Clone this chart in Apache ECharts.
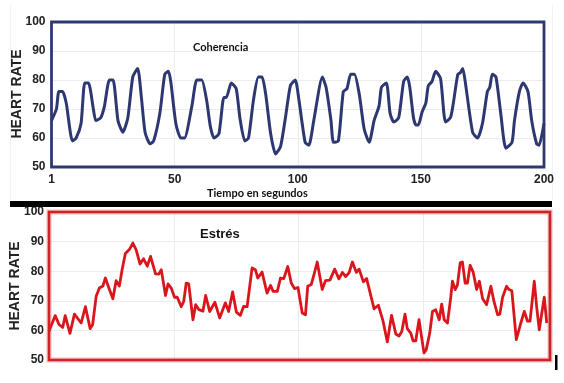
<!DOCTYPE html>
<html>
<head>
<meta charset="utf-8">
<script src="https://cdn.jsdelivr.net/npm/echarts@6/dist/echarts.min.js"></script>
<style>
html,body{margin:0;padding:0;background:#fff;}
#chart{width:564px;height:383px;}
</style>
</head>
<body>
<div id="chart"></div>
<script>
// Coherence (top chart): time (s) and heart rate
var coherenceT = [0,2,3,4.5,6,8.5,10,12,13.5,15,17,18,20,21.5,23.5,25,27,29,31,33,35,36.5,38,40,41.5,44,46,47.5,48.5,50.5,52.5,54,57,59,61,63,64.5,66,68,70,71,73,75,76.5,78.5,80,82,84,85.5,87,89,91,93,95,97,99,100.5,103,104.5,106.5,110,111.5,113.5,114.5,116.5,118.5,120,121.5,123,125,127,129,131,133,134,136,137.5,139,141,143,144.5,145.5,147,148,149,150.5,152,153,154.5,156,158,160,162,163,165,166,167,168,171,173,175,177,178,179,180.5,182.5,184.5,187,188,190,191.5,193.5,195,197,198,200];
var coherenceV = [66,70,76,76,72,59,60,65,79,79,70,66,67,71,80,80,66,62,67,81,84,74,62,58,59,68.5,82,83,79,65,60,60,71,80,80,73,64,60,61.5,74,74,79,77,67,59,60,73,81,81,75,61.5,54.5,57,67,78,80,73,58.5,57.5,66,81,77.5,66,58.5,59,76,77,82,82,75,63,58.5,66,71,77.5,79,68.5,65.5,67,79.5,81,77.5,67,64.5,64.5,69,72,78,79.5,83,80.5,65.5,67,71,82,82.5,84,79.5,62,60,65,76,77.5,82,81,68,56.5,58.5,66,76,79,76,66,58,57.5,65];

// Stress (bottom chart): time (s) and heart rate
var stressT = [0,2.5,4,5.5,6.5,8.4,10.2,11,12.9,14.6,16.5,17.5,18.9,20.2,21.6,22.6,24,25.6,26.9,28.2,29.3,30.6,32.2,33.6,34.9,36.5,37.9,39.4,40.7,42.7,44,45,46.7,47.7,49,50.3,51.4,53,54,55,56,57.7,58.8,60.1,61.7,62.8,64.4,66.5,68.4,70.7,72,73.6,75.1,76.7,78,79.4,81.4,82.7,83.7,85.4,87.4,88.8,89.8,91.5,92.8,94.1,95.7,97.1,98.4,99.8,101.5,102.8,103.7,105.1,106.2,107.5,109.5,110.8,112.6,114.5,116.2,117.6,118.9,120.3,121.6,123.2,124.3,126,127.3,130.3,132,133.9,135.6,137.3,139,140.3,141.4,142.7,143.6,145,145.9,147,148.3,149.4,150.3,151.2,152.6,153.7,155,156.4,157.4,158.4,159.7,161,161.7,162.8,163.7,164.8,165.7,166.8,167.7,168.8,170,171.4,172.5,173.8,175.4,177.1,178.4,179.8,180.7,181.8,183.4,184.4,185.5,187.3,189.1,190.5,191.8,192.8,194.5,195.5,196.5,198.5,199.5];
var stressV = [59.7,65,62,61,65,59,65.5,65.5,62.5,68,60.6,62,71.5,74.3,75,77.7,74.3,70.7,76.8,75,80.5,86,87.3,89.5,87.3,82.4,84.2,81.7,85,79.1,79,80.5,71.8,75.7,74.3,71.2,71.2,68,69.8,76,75.7,63.6,68.7,67,66.5,71.8,66.4,69.5,64.2,69.3,66.4,73,66.2,65.1,68.1,68,81.1,80.5,77.7,79.7,72.6,75.2,73.2,73.2,77.7,77.5,81.6,76,74.1,74.5,65.9,65.3,74.9,75.5,78.8,83.1,73.8,76.8,77,80.7,77.4,79.6,78.2,79.5,83.1,79.6,80.7,76.4,77.5,67.3,68.5,63.1,56.1,65.1,58.8,58.1,59.6,65.5,60.6,59.1,56.5,56.5,63.6,57.4,52.4,53.5,59.1,66.4,67,63.6,68.9,63.6,62.5,71,76.6,73.8,75.3,82.8,83.1,76,76,82,79.7,73.8,76.6,70.7,68.7,74.9,69.6,65.3,65.5,71.2,74.9,73.8,73.4,56.9,62.5,66.4,63.1,63.1,76.6,67.6,60.2,71.2,62.5];

var xTicks = [0, 50, 100, 150, 200];
var xTickLabels = ['1', '50', '100', '150', '200'];
var yTicks = [50, 60, 70, 80, 90, 100];

function pairs(t, v) { return t.map(function (x, i) { return [x, v[i]]; }); }

var chart = echarts.init(document.getElementById('chart'), null, {renderer: 'canvas'});
var labelFont = {fontFamily: 'Liberation Sans, Arial, sans-serif', fontWeight: 'bold', fontSize: 12, color: '#222'};
var splitLine = {show: true, lineStyle: {color: '#ececec', width: 1}};

var G1 = {left: 51.5, top: 22, width: 492.5, height: 145};
var G2 = {left: 49, top: 212, width: 499, height: 148};

chart.setOption({
  animation: false,
  backgroundColor: '#ffffff',
  grid: [
    {left: G1.left, top: G1.top, width: G1.width, height: G1.height, show: false},
    {left: G2.left, top: G2.top, width: G2.width, height: G2.height, show: false}
  ],
  xAxis: [
    {gridIndex: 0, type: 'value', min: 0, max: 200, interval: 50,
     axisLine: {show: false}, axisTick: {show: false}, splitLine: splitLine,
     axisLabel: Object.assign({margin: 7, formatter: function (v) { var i = xTicks.indexOf(v); return i >= 0 ? xTickLabels[i] : ''; }}, labelFont)},
    {gridIndex: 1, type: 'value', min: 0, max: 200, interval: 50,
     axisLine: {show: false}, axisTick: {show: false}, splitLine: splitLine,
     axisLabel: {show: false}}
  ],
  yAxis: [
    {gridIndex: 0, type: 'value', min: yTicks[0], max: yTicks[yTicks.length - 1], interval: 10,
     axisLine: {show: false}, axisTick: {show: false}, splitLine: splitLine,
     axisLabel: Object.assign({margin: 6}, labelFont)},
    {gridIndex: 1, type: 'value', min: yTicks[0], max: yTicks[yTicks.length - 1], interval: 10,
     axisLine: {show: false}, axisTick: {show: false}, splitLine: splitLine,
     axisLabel: Object.assign({margin: 5}, labelFont)}
  ],
  series: [
    {type: 'line', xAxisIndex: 0, yAxisIndex: 0, data: pairs(coherenceT, coherenceV),
     showSymbol: false, smooth: 0.2, lineStyle: {color: '#2d3872', width: 3}},
    {type: 'line', xAxisIndex: 1, yAxisIndex: 1, data: pairs(stressT, stressV),
     showSymbol: false, smooth: false, lineStyle: {color: '#d8161b', width: 2.8, join: 'round'}}
  ],
  graphic: [
    {type: 'rect', z: 50, shape: {x: G1.left, y: G1.top, width: G1.width, height: G1.height},
     style: {fill: 'none', stroke: '#2e3970', lineWidth: 2.8}},
    {type: 'rect', z: 49, shape: {x: G2.left, y: G2.top, width: G2.width + 2, height: G2.height},
     style: {fill: 'none', stroke: 'rgba(220,60,60,0.35)', lineWidth: 5}},
    {type: 'rect', z: 50, shape: {x: G2.left, y: G2.top, width: G2.width + 2, height: G2.height},
     style: {fill: 'none', stroke: '#cf2226', lineWidth: 2.5}},
    {type: 'text', x: 17.5, y: 94, rotation: Math.PI / 2,
     style: {text: 'HEART RATE', fontFamily: 'Liberation Sans, Arial, sans-serif', fontWeight: 'bold', fontSize: 14, fill: '#222', textAlign: 'center', textVerticalAlign: 'middle'}},
    {type: 'text', x: 15, y: 286, rotation: Math.PI / 2,
     style: {text: 'HEART RATE', fontFamily: 'Liberation Sans, Arial, sans-serif', fontWeight: 'bold', fontSize: 14, fill: '#222', textAlign: 'center', textVerticalAlign: 'middle'}},
    {type: 'text', x: 193, y: 47.5,
     style: {text: 'Coherencia', fontFamily: 'Lato, sans-serif', fontWeight: 'bold', fontSize: 11, fill: '#111', textAlign: 'left', textVerticalAlign: 'middle'}},
    {type: 'text', x: 207, y: 193,
     style: {text: 'Tiempo en segundos', fontFamily: 'Lato, sans-serif', fontWeight: 'bold', fontSize: 11, fill: '#111', textAlign: 'left', textVerticalAlign: 'middle'}},
    {type: 'text', x: 200, y: 234,
     style: {text: 'Estrés', fontFamily: 'Liberation Sans, Arial, sans-serif', fontWeight: 'bold', fontSize: 13, fill: '#111', textAlign: 'left', textVerticalAlign: 'middle'}},
    {type: 'rect', shape: {x: 10, y: 201, width: 542, height: 6}, style: {fill: '#000'}, z: 60},
    {type: 'rect', shape: {x: 555, y: 355, width: 2.5, height: 15}, style: {fill: '#000'}, z: 60},
    {type: 'line', shape: {x1: 10.5, y1: 5, x2: 10.5, y2: 200}, style: {stroke: '#f2f2f2', lineWidth: 1}},
    {type: 'line', shape: {x1: 552.5, y1: 5, x2: 552.5, y2: 200}, style: {stroke: '#f2f2f2', lineWidth: 1}}
  ]
});
</script>
</body>
</html>
